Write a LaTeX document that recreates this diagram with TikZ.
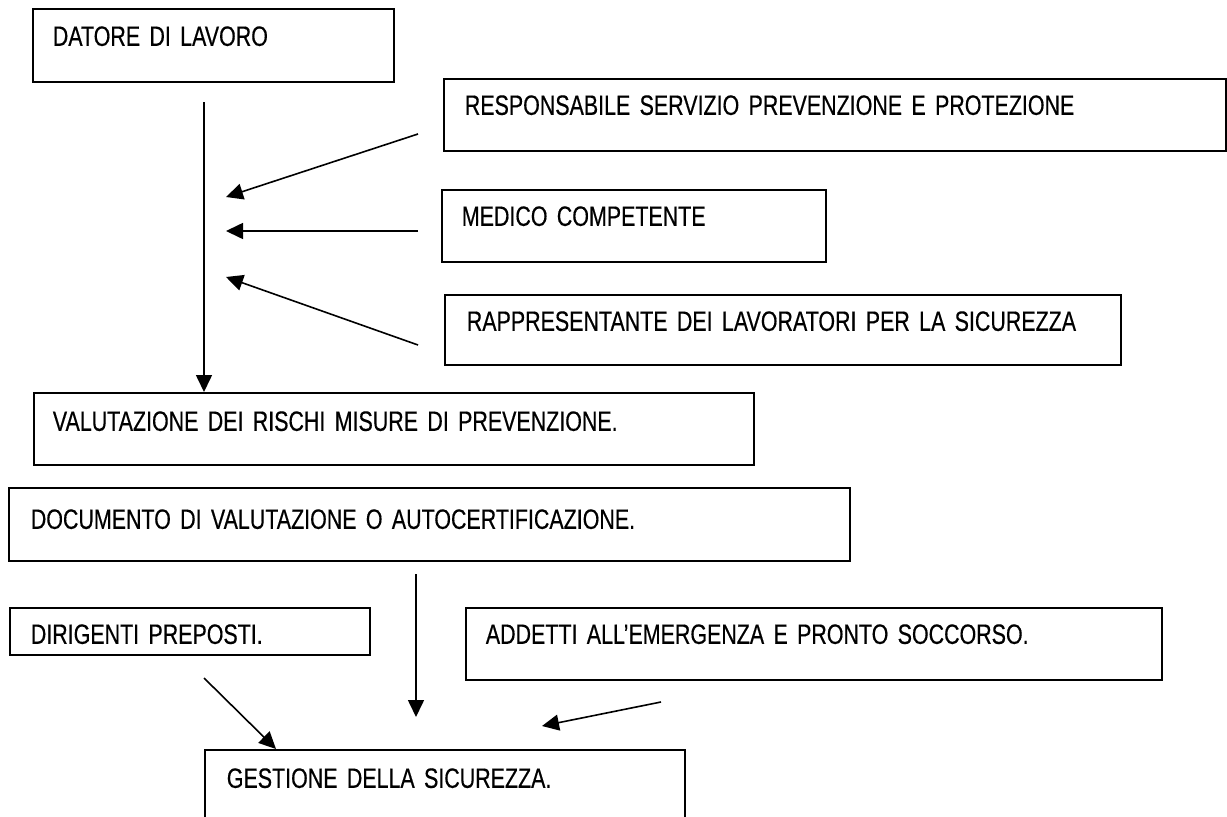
\documentclass[tikz,border=0pt]{standalone}
\usepackage{fontspec}
\setmainfont[FakeStretch=0.765,FakeBold=0.4]{Liberation Sans}
\usetikzlibrary{arrows.meta}
\begin{document}
\begin{tikzpicture}[x=1pt,y=-1pt,
  box/.style={draw, line width=1.7pt, anchor=north west, inner ysep=0pt, align=left,
              font=\fontsize{28pt}{32pt}\selectfont},
  arr/.style={line width=1.6pt, -{Triangle[length=17pt,width=16pt]}}]
\clip (0,0) rectangle (1227,817);
\fill[white] (0,0) rectangle (1227,817);
% boxes
\node[box, inner xsep=20pt, text width=321pt, text height=37pt, text depth=36pt] (datore) at (32,8) {DATORE DI LAVORO};
\node[box, inner xsep=21pt, text width=740pt, text height=36pt, text depth=36pt] (rspp) at (443,78) {RESPONSABILE SERVIZIO PREVENZIONE E PROTEZIONE};
\node[box, inner xsep=20pt, text width=344pt, text height=36pt, text depth=36pt] (medico) at (441,189) {MEDICO COMPETENTE};
\node[box, inner xsep=22pt, text width=632pt, text height=36pt, text depth=34pt] (rls) at (444,294) {RAPPRESENTANTE DEI LAVORATORI PER LA SICUREZZA};
\node[box, inner xsep=19pt, text width=682pt, text height=38pt, text depth=34pt] (valut) at (33,392) {VALUTAZIONE DEI RISCHI MISURE DI PREVENZIONE.};
\node[box, inner xsep=22pt, text width=797pt, text height=41pt, text depth=32pt] (doc) at (8,487) {DOCUMENTO DI VALUTAZIONE O AUTOCERTIFICAZIONE.};
\node[box, inner xsep=21pt, text width=318pt, text height=36pt, text depth=11pt] (dirig) at (9,607) {DIRIGENTI PREPOSTI.};
\node[box, inner xsep=20pt, text width=656pt, text height=36pt, text depth=36pt] (addetti) at (465,607) {ADDETTI ALL’EMERGENZA E PRONTO SOCCORSO.};
\node[box, inner xsep=22pt, text width=436pt, text height=38pt, text depth=60pt] (gest) at (204,749) {GESTIONE DELLA SICUREZZA.};
% free ends of connectors
\coordinate (d1) at (204,102);
\coordinate (r1) at (418,134);
\coordinate (r2) at (226,197);
\coordinate (m1) at (418,231);
\coordinate (m2) at (226,231);
\coordinate (l1) at (418,345);
\coordinate (l2) at (226,277);
\coordinate (v1) at (416,574);
\coordinate (v2) at (416,717);
\coordinate (p1) at (204,678);
\coordinate (p2) at (276,749);
\coordinate (e1) at (661,702);
\coordinate (e2) at (542,726);
% connectors
\draw[arr] (d1) -- (d1 |- valut.north);
\draw[arr] (r1) -- (r2);
\draw[arr] (m1) -- (m2);
\draw[arr] (l1) -- (l2);
\draw[arr] (v1) -- (v2);
\draw[arr] (p1) -- (p2 |- gest.north);
\draw[arr] (e1) -- (e2);
\end{tikzpicture}
\end{document}
